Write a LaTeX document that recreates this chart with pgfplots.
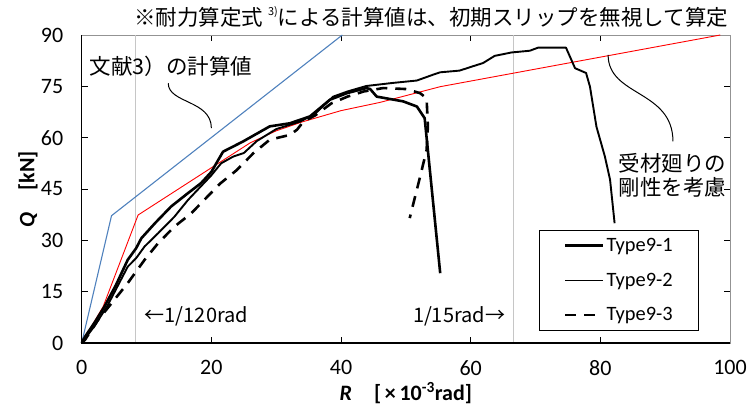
\documentclass[border=0pt]{standalone}
\usepackage{fontspec}
\setmainfont{Carlito}
\newfontfamily\jp{Noto Sans CJK JP}
\usepackage{pgfplots}
\pgfplotsset{compat=1.18}
\definecolor{exblue}{RGB}{79,129,189}
\begin{document}
\begin{tikzpicture}
\useasboundingbox (-81.7pt,-66pt) rectangle (665.3pt,343pt);
\begin{axis}[
  scale only axis, width=648.3pt, height=308pt,
  xmin=0, xmax=100, ymin=0, ymax=90,
  xtick={0,20,...,100}, ytick={0,15,...,90},
  tick align=inside, major tick length=6pt,
  tick style={black, line width=0.8pt},
  axis line style={draw=gray!85, line width=0.8pt},
  tick label style={font=\fontsize{22}{24}\selectfont},
  /pgf/number format/assume math mode=true,
  xticklabel style={yshift=-14pt},
  yticklabel style={xshift=-15pt},
  xlabel={\textbf{\textit{R}}\quad\textbf{[\,×\,10\textsuperscript{-3}rad]}},
  ylabel={\textbf{\textit{Q}}\quad\textbf{[kN]}},
  xlabel style={at={(axis description cs:0.5,-0.162)}, anchor=center, font=\fontsize{22}{24}\selectfont},
  ylabel style={at={(axis description cs:-0.083,0.5)}, anchor=center, font=\fontsize{22}{24}\selectfont},
  clip=false,
  legend style={at={(axis cs:95.2,33)}, anchor=north east, draw=black, fill=white,
    font=\fontsize{20.4}{22}\selectfont, row sep=16pt, inner xsep=24pt, inner ysep=6pt},
  legend cell align=left,
]
% reference drift lines
\addplot[forget plot, gray!45, line width=0.9pt] coordinates {(8.333,0) (8.333,90)};
\addplot[forget plot, gray!45, line width=0.9pt] coordinates {(66.667,0) (66.667,90)};
% calculated (ref. 3)
\addplot[forget plot, exblue, line width=1.1pt] coordinates {(0,0) (4.6,37.2) (40.2,90)};
% calculated (considering stiffness)
\addplot[forget plot, red, line width=0.9pt] coordinates {
(0,0) (3.3,10.6) (8.7,37.4) (20,51.2) (26,58.5) (30,62) (34,64.6) (40,67.9) (46,70.3) (55.3,74.9) (98.5,90)};
% Type9-1
\addplot[black, line width=2.6pt, line join=round,
  legend image code/.code={\draw[black, line width=3pt] (0pt,0pt) -- (38pt,0pt);}] coordinates {
(0,0) (0.5,1.8) (2,6) (3.5,10.6) (5.3,17) (7.1,24.3) (8.4,27.7) (9.2,30.6) (11.3,35) (13.8,39.9)
(16.4,43.8) (18.4,46.7) (20,50) (21.8,55.9) (24.9,58.9) (29,63.3) (32.1,64.2) (35.2,66.2)
(38.3,71.1) (40.9,73) (43.9,74.5) (44.5,74.2) (45.5,72) (49.6,70.6) (51.7,69.1) (52.9,65.7) (55.3,20.4)};
\addlegendentry{Type9-1}
% Type9-2
\addplot[black, line width=1.9pt, line join=round,
  legend image code/.code={\draw[black, line width=1.5pt] (0pt,0pt) -- (38pt,0pt);}] coordinates {
(0,0) (2,5) (4,11) (7.1,22.3) (8.4,24.8) (9.7,28.2) (11.8,32.1) (14.3,36.9) (16.4,41.8) (18.5,46)
(20,49) (21.5,52.5) (23.4,54.5) (25,55.5) (27,59) (30,62.5) (33.7,64.7) (36,67) (38.8,72) (41,73.5)
(43.9,75.1) (48,76) (51.7,76.7) (54.2,78.4) (55.3,79.1) (58.3,79.6) (59.9,80.6) (61.9,81.8) (63.7,83.9)
(66.3,84.9) (69.1,85.4) (70.4,86.3) (74.7,86.3) (76.1,80.3) (77.8,78.9) (78.4,74.9) (79.4,63.2)
(80.7,54.5) (81.5,47.7) (82.2,35)};
\addlegendentry{Type9-2}
% Type9-3
\addplot[black, line width=2.6pt, dash pattern=on 11pt off 8pt,
  legend image code/.code={\draw[black, line width=2.6pt, dash pattern=on 11pt off 8pt] (0pt,0pt) -- (38pt,0pt);}] coordinates {
(0,0) (0.5,0.9) (2.5,6.7) (4.6,11.6) (7.1,17.5) (9.7,24.3) (11.8,29.2) (14.3,34) (16.9,37.9) (19,42)
(21.3,46.5) (23.9,50.5) (26.5,55.5) (29,59.4) (32.1,60.8) (33.2,62.3) (34.2,64.7) (36,66.5) (38.5,70)
(41,72) (43.5,73.5) (46.5,74.5) (50.1,74.2) (52.2,73) (53.2,71.5) (53.4,63.2) (53.2,56.4) (52.2,48.6) (50.6,36.5)};
\addlegendentry{Type9-3}
% left/bottom axis lines in black
\draw[black, line width=1.3pt] (rel axis cs:0,1) -- (rel axis cs:0,0) -- (rel axis cs:1,0);
% annotations
\node[font=\jp\fontsize{21.5}{24}\selectfont] at (axis cs:53.9,95.2)
  {※耐力算定式 \raisebox{0.45em}{\fontsize{11}{12}\selectfont 3)}による計算値は、初期スリップを無視して算定};
\node[font=\jp\fontsize{21.5}{24}\selectfont] at (axis cs:13.8,80.8) {文献3）の計算値};
\node[font=\jp\fontsize{21.5}{24}\selectfont, align=center] at (axis cs:91.1,49.1)
  {受材廻りの\\[0pt]剛性を考慮};
\node[font=\jp\fontsize{20}{22}\selectfont] at (axis cs:17.7,7.7) {←1/120rad};
\node[font=\jp\fontsize{20}{22}\selectfont] at (axis cs:58.2,7.7) {1/15rad→};
\draw[black, line width=1pt] (axis cs:13.35,75.9) .. controls (axis cs:13.35,70) and (axis cs:20,71) .. (axis cs:20,62.8);
\draw[black, line width=1pt] (axis cs:81.2,84.2) .. controls (axis cs:81.2,72) and (axis cs:91.2,74) .. (axis cs:91.2,58.9);
\end{axis}
\end{tikzpicture}
\end{document}
